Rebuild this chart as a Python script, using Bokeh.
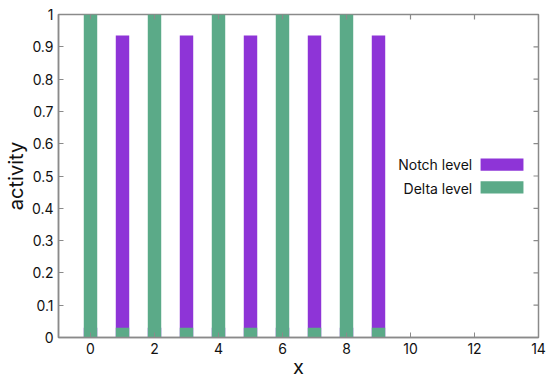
import math
from bokeh.plotting import figure
from bokeh.models import (ColumnDataSource, FixedTicker, Label,
                          BoxAnnotation, CustomJSTickFormatter)
from bokeh.embed import file_html
from bokeh.resources import INLINE

# ---- data ----
cells = [0, 1, 2, 3, 4, 5, 6, 7, 8, 9]
notch_level = [0.03, 0.935, 0.03, 0.935, 0.03, 0.935, 0.03, 0.935, 0.03, 0.935]
delta_level = [1.0, 0.03, 1.0, 0.03, 1.0, 0.03, 1.0, 0.03, 1.0, 0.03]
x_ticks = [0, 2, 4, 6, 8, 10, 12, 14]
y_ticks = [0, 0.1, 0.2, 0.3, 0.4, 0.5, 0.6, 0.7, 0.8, 0.9, 1]
series_names = ["Notch level", "Delta level"]
x_title = "x"
y_title = "activity"

NOTCH = "#8E34D7"
DELTA = "#5BAA88"
FONT = "Inter"
AXIS_GREY = "#8a8a8a"
X_MIN, X_MAX, Y_MIN, Y_MAX = -1, 14, 0, 1

src = ColumnDataSource(dict(x=cells, notch=notch_level, delta=delta_level))

p = figure(width=547, height=381, x_range=(X_MIN, X_MAX), y_range=(Y_MIN, Y_MAX),
           output_backend="svg", toolbar_location=None,
           min_border_left=58, min_border_right=9, min_border_top=14,
           min_border_bottom=42)
p.xgrid.visible = False
p.ygrid.visible = False
p.outline_line_color = AXIS_GREY
p.outline_line_width = 1.5

p.vbar(x="x", top="notch", bottom=0, width=0.42, source=src,
       fill_color=NOTCH, line_color=None)
p.vbar(x="x", top="delta", bottom=0, width=0.42, source=src,
       fill_color=DELTA, line_color=None)

fmt = CustomJSTickFormatter(code="return String(tick);")

def style(ax):
    ax.axis_line_color = AXIS_GREY
    ax.axis_line_width = 1.5
    ax.major_tick_line_color = AXIS_GREY
    ax.major_tick_in = 5
    ax.major_tick_out = 0
    ax.minor_tick_line_color = None
    ax.major_label_text_font = FONT
    ax.major_label_text_font_size = "14px"
    ax.major_label_text_color = "#111111"
    ax.axis_label_text_font = FONT
    ax.axis_label_text_font_size = "20px"
    ax.axis_label_text_font_style = "normal"
    ax.axis_label_text_color = "#111111"

xa = p.xaxis[0]
xa.ticker = FixedTicker(ticks=x_ticks)
xa.formatter = fmt
xa.axis_label = x_title
style(xa)
xa.major_label_standoff = 5
xa.axis_label_standoff = -2

ya = p.yaxis[0]
ya.ticker = FixedTicker(ticks=y_ticks)
ya.formatter = fmt
ya.axis_label = y_title
style(ya)
ya.major_label_standoff = 5
ya.axis_label_standoff = 1

# mirrored inward ticks on the right and top borders (half of each dash is clipped)
p.scatter(x=[X_MAX] * len(y_ticks), y=y_ticks, marker="dash", size=10,
          line_color=AXIS_GREY, line_width=1.2)
p.scatter(x=x_ticks, y=[Y_MAX] * len(x_ticks), marker="dash", size=10,
          angle=math.pi / 2, line_color=AXIS_GREY, line_width=1.2)

# ---- legend (text right-aligned, sample box to the right) ----
leg_text_x = 11.93
for name, col, yc, ytop, ybot in [(series_names[0], NOTCH, 0.535, 0.554, 0.516),
                                  (series_names[1], DELTA, 0.462, 0.484, 0.446)]:
    p.add_layout(Label(x=leg_text_x, y=yc, text=name, text_align="right",
                       text_baseline="middle", text_font=FONT,
                       text_font_size="14px", text_color="#111111"))
    p.add_layout(BoxAnnotation(left=12.19, right=13.53, top=ytop, bottom=ybot,
                               fill_color=col, fill_alpha=1.0, line_color=None))

open("out.html", "w").write(file_html(p, INLINE))
